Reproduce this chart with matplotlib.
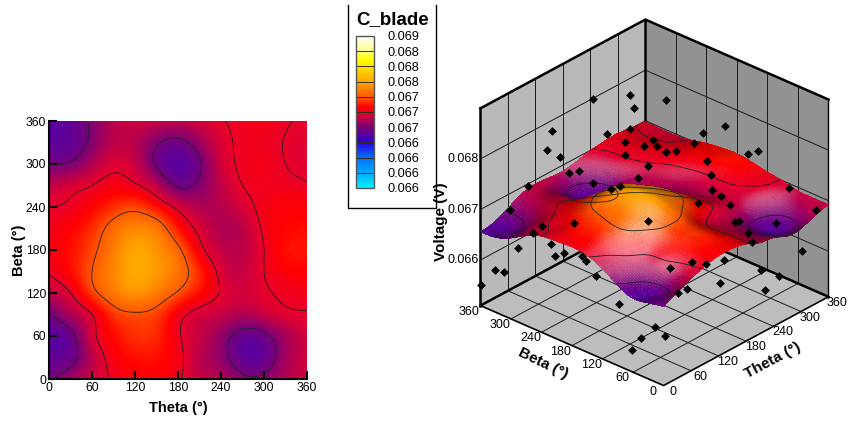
#!/usr/bin/env python3
"""C_blade response surface: flood map plus 3D view."""
import matplotlib
matplotlib.use("Agg")
import matplotlib.pyplot as plt
import numpy as np
from matplotlib.cm import ScalarMappable
from matplotlib.colors import LinearSegmentedColormap, Normalize
from matplotlib.lines import Line2D
from mpl_toolkits.mplot3d import proj3d
from mpl_toolkits.mplot3d.art3d import Poly3DCollection

plt.rcParams["font.family"] = ["Liberation Sans", "DejaVu Sans"]

grid_theta = [0, 30, 60, 90, 120, 150, 180, 210, 240, 270, 300, 330, 360]
grid_beta = [0, 30, 60, 90, 120, 150, 180, 210, 240, 270, 300, 330, 360]
voltage_mv = [
    [66.66, 66.80, 66.92, 67.02, 67.08, 67.08, 67.02, 66.90, 66.85, 66.74, 66.74, 66.85, 66.92],
    [66.60, 66.64, 66.88, 67.06, 67.13, 67.13, 67.04, 66.88, 66.76, 66.60, 66.60, 66.80, 66.92],
    [66.56, 66.65, 66.95, 67.12, 67.20, 67.18, 67.02, 66.90, 66.78, 66.63, 66.66, 66.82, 66.93],
    [66.68, 66.84, 67.00, 67.22, 67.28, 67.24, 67.06, 66.95, 66.90, 66.85, 66.90, 66.97, 66.99],
    [66.88, 67.00, 67.24, 67.42, 67.52, 67.43, 67.28, 67.12, 66.99, 66.93, 66.98, 67.02, 67.04],
    [67.01, 67.12, 67.30, 67.48, 67.62, 67.55, 67.40, 67.18, 66.96, 66.90, 67.00, 67.08, 67.10],
    [67.05, 67.13, 67.26, 67.44, 67.60, 67.52, 67.34, 67.05, 66.90, 66.88, 67.00, 67.12, 67.14],
    [67.03, 67.10, 67.20, 67.37, 67.47, 67.41, 67.15, 66.96, 66.85, 66.88, 67.02, 67.10, 67.12],
    [67.00, 67.02, 67.10, 67.20, 67.25, 67.13, 66.96, 66.85, 66.86, 66.94, 67.04, 67.08, 67.08],
    [66.88, 66.95, 67.00, 67.06, 67.02, 66.88, 66.68, 66.74, 66.88, 67.00, 67.03, 67.03, 67.01],
    [66.70, 66.72, 66.86, 66.96, 66.90, 66.68, 66.56, 66.68, 66.92, 67.02, 67.04, 67.00, 66.97],
    [66.58, 66.60, 66.74, 66.88, 66.86, 66.72, 66.66, 66.78, 66.95, 67.02, 67.03, 66.995, 66.97],
    [66.56, 66.60, 66.73, 66.87, 66.92, 66.90, 66.88, 66.93, 66.99, 67.03, 67.04, 67.01, 66.98],
]
contour_levels = [0.0667, 0.0670, 0.0673]
ticks_deg = [0, 60, 120, 180, 240, 300, 360]
volt_ticks = [0.066, 0.067, 0.068]
volt_labels = ["0.066", "0.067", "0.068"]
legend_levels = [0.0685, 0.0682, 0.0679, 0.0676, 0.0673, 0.0670, 0.0667, 0.0664, 0.0661, 0.0658, 0.0655]
legend_labels = ["0.069", "0.068", "0.068", "0.068", "0.067", "0.067", "0.067", "0.066", "0.066", "0.066", "0.066"]

# sample points in front of the surface
front_theta = [193, 233, 225, 265, 122, 100, 107, 175, 202, 299, 270, 214, 185, 200, 213, 217, 227, 252, 173, 296,
               308, 249, 186, 101, 112, 240, 165, 49, 116, 128, 140, 227, 201, 230, 231, 306, 333, 17, 135, 25,
               60, 15, 220, 225, 223, 260, 219, 303, 16, 18, 23, 13, 38, 37, 18, 17, 0, 114, 142, 154,
               176, 212, 252, 33, 149, 222, 99, 112, 31, 45, 21, 47, 6]
front_beta = [312, 276, 261, 233, 330, 319, 299, 268, 248, 148, 166, 214, 242, 219, 205, 190, 180, 168, 232, 101,
              92, 139, 198, 276, 268, 122, 198, 310, 243, 218, 212, 110, 114, 95, 78, 28, 0, 317, 153, 262,
              230, 271, 58, 55, 35, 14, 23, 0, 300, 237, 216, 225, 194, 185, 347, 328, 359, 90, 71, 55,
              39, 0, 0, 162, 24, 0, 60, 54, 116, 57, 63, 40, 68]
front_mv = [68.46, 68.50, 68.35, 68.44, 68.08, 67.87, 67.78, 68.05, 68.10, 68.13, 68.04, 67.97, 67.95, 67.90, 67.90,
            67.83, 67.84, 67.93, 67.80, 67.80, 67.83, 67.72, 67.67, 67.59, 67.61, 67.55, 67.53, 67.45, 67.48, 67.40,
            67.44, 67.38, 67.23, 67.30, 67.20, 67.40, 66.95, 67.09, 67.03, 66.98, 67.01, 66.85, 67.00, 67.01, 66.87,
            66.98, 66.76, 66.28, 66.42, 66.77, 66.67, 66.61, 66.63, 66.56, 65.78, 65.82, 65.52, 66.48, 66.54, 66.52,
            66.56, 66.36, 66.03, 66.39, 66.29, 65.91, 66.18, 66.23, 66.06, 65.78, 65.66, 65.68, 65.47]

# sample points seen through the surface
behind_theta = [184, 206, 226, 139, 211, 92, 100, 140, 192, 172, 180, 168, 94, 240, 285, 37, 114, 16, 89, 73,
                110, 115, 41, 182, 173, 181, 219, 285, 129, 51, 85]
behind_beta = [250, 200, 155, 238, 160, 276, 257, 220, 151, 159, 133, 140, 216, 78, 40, 282, 225, 290, 186, 188,
               159, 155, 214, 98, 81, 61, 41, 0, 77, 143, 83]
behind_mv = [67.99, 67.82, 67.66, 67.60, 67.60, 67.53, 67.46, 67.50, 67.41, 67.32, 67.21, 67.17, 67.15, 67.26, 67.28,
             67.19, 67.35, 66.83, 66.92, 66.82, 66.89, 66.91, 66.77, 67.00, 66.82, 66.74, 66.88, 66.84, 66.49, 66.38,
             66.22]

cmap = LinearSegmentedColormap.from_list("blade", [
    (0.0, "#00f0ff"),
    (0.1, "#00aaff"),
    (0.2, "#006eff"),
    (0.3, "#2800e0"),
    (0.33, "#4a00b4"),
    (0.36, "#600098"),
    (0.4, "#7a0078"),
    (0.5, "#eb0028"),
    (0.533, "#ff0000"),
    (0.6, "#ff5a00"),
    (0.7, "#ffa500"),
    (0.8, "#ffe100"),
    (0.85, "#ffff00"),
    (0.9, "#ffff82"),
    (1.0, "#ffffff"),
])
norm = Normalize(0.0655, 0.0685)


def spline_weights(x, xf):
    """Natural cubic spline from knots x to points xf, as a matrix."""
    x = np.asarray(x, float)
    n, h = len(x), x[1] - x[0]
    A = np.eye(n)
    rhs = np.zeros((n, n))
    for i in range(1, n - 1):
        A[i, i - 1:i + 2] = [h / 6, 2 * h / 3, h / 6]
        rhs[i, i - 1:i + 2] = [1 / h, -2 / h, 1 / h]
    m = np.linalg.solve(A, rhs)
    i = np.clip(np.searchsorted(x, xf, side="right") - 1, 0, n - 2)
    a, b = (x[i + 1] - xf) / h, (xf - x[i]) / h
    w = np.zeros((len(xf), n))
    rows = np.arange(len(xf))
    w[rows, i] += a
    w[rows, i + 1] += b
    w += ((a ** 3 - a) * h ** 2 / 6)[:, None] * m[i] + ((b ** 3 - b) * h ** 2 / 6)[:, None] * m[i + 1]
    return w


# smooth the read grid for drawing
fine = np.linspace(0, 360, 121)
T, B = np.meshgrid(fine, fine)
Z = spline_weights(grid_beta, fine) @ (np.array(voltage_mv) * 1e-3) @ spline_weights(grid_theta, fine).T

fig = plt.figure(figsize=(8.5, 4.25), dpi=100)

# flood map
ax = fig.add_axes([49 / 850, 46 / 425, 258 / 850, 258 / 425])
ax.imshow(Z, origin="lower", extent=(0, 360, 0, 360), cmap=cmap, norm=norm, interpolation="bilinear", aspect="auto")
ax.contour(T, B, Z, levels=contour_levels, colors="#202020", linewidths=0.6)
ax.set_xticks(ticks_deg)
ax.set_yticks(ticks_deg)
ax.tick_params(direction="in", length=6, width=1.5, labelsize=8.7, pad=2)
for side in ("top", "right"):
    ax.spines[side].set_visible(False)
for side in ("left", "bottom"):
    ax.spines[side].set_linewidth(1.5)
ax.set_xlabel("Theta (°)", fontsize=10.5, fontweight="bold", labelpad=5)
ax.set_ylabel("Beta (°)", fontsize=10.5, fontweight="bold", labelpad=0)

# legend box
cax = fig.add_axes([356 / 850, (425 - 188) / 425, 18 / 850, 152 / 425])
cb = fig.colorbar(ScalarMappable(norm=norm, cmap=cmap), cax=cax, ticks=legend_levels)
cb.ax.set_yticklabels(legend_labels, fontsize=9.2)
cb.ax.tick_params(length=0, pad=10)
cb.outline.set_edgecolor("#555555")
cb.outline.set_linewidth(1)
for lev in legend_levels[1:-1]:
    cax.axhline(lev, color="#303010", lw=0.7)
fig.text(393 / 850, 1 - 20 / 425, "C_blade", fontsize=13.5, fontweight="bold", ha="center", va="center")
fig.add_artist(Line2D([348 / 850, 348 / 850, 436 / 850, 436 / 850],
                      [1 - 5 / 425, 1 - 208 / 425, 1 - 208 / 425, 1 - 5 / 425], color="k", lw=1))

# 3D view
ax3 = fig.add_axes([447.5 / 850, 15.5 / 425, 403 / 850, 403 / 425], projection="3d", proj_type="ortho", computed_zorder=False)
ax3.patch.set_alpha(0)
ax3.set_xticks([])
ax3.set_yticks([])
ax3.set_zticks([])
ax3.set_axis_off()
ax3.view_init(elev=29, azim=-138)
ax3.set_box_aspect((1, 1, 0.915))
zmin, zmax = 0.0651, 0.0690
ax3.set_xlim(0, 360, view_margin=0)
ax3.set_ylim(0, 360, view_margin=0)
ax3.set_zlim(zmin, zmax, view_margin=0)

walls = [
    ([(0, 360, zmin), (360, 360, zmin), (360, 360, zmax), (0, 360, zmax)], "#b9b9b9"),
    ([(360, 0, zmin), (360, 360, zmin), (360, 360, zmax), (360, 0, zmax)], "#929292"),
    ([(0, 0, zmin), (360, 0, zmin), (360, 360, zmin), (0, 360, zmin)], "#bdbdbd"),
]
for verts, color in walls:
    ax3.add_collection3d(Poly3DCollection([verts], facecolors=color, edgecolors="none", zorder=1))

grid_kw = dict(color="#1a1a1a", lw=0.7, zorder=2)
for d in ticks_deg[1:-1]:
    ax3.plot([d, d], [360, 360], [zmin, zmax], **grid_kw)
    ax3.plot([360, 360], [d, d], [zmin, zmax], **grid_kw)
    ax3.plot([d, d], [0, 360], [zmin, zmin], **grid_kw)
    ax3.plot([0, 360], [d, d], [zmin, zmin], **grid_kw)
for v in volt_ticks:
    ax3.plot([0, 360], [360, 360], [v, v], **grid_kw)
    ax3.plot([360, 360], [0, 360], [v, v], **grid_kw)

thick = dict(color="k", lw=1.8, zorder=3)
ax3.plot([0, 360, 360], [360, 360, 0], [zmax, zmax, zmax], **thick)
ax3.plot([360, 360], [360, 360], [zmin, zmax], **thick)
ax3.plot([0, 0], [360, 360], [zmin, zmax], **thick)
ax3.plot([360, 360], [0, 0], [zmin, zmax], color="k", lw=1, zorder=3)
ax3.plot([0, 360, 360], [360, 360, 0], [zmin, zmin, zmin], **thick)
ax3.plot([0, 0, 360], [360, 0, 0], [zmin, zmin, zmin], color="k", lw=1.2, zorder=3)

marker_kw = dict(marker="D", s=20, c="k", linewidths=0, depthshade=False)
ax3.scatter(behind_theta, behind_beta, np.array(behind_mv) * 1e-3, zorder=4, **marker_kw)

# lighting: slopes that face the viewer go pale, flat parts go a little dull
dz_b, dz_t = np.gradient(Z, fine, fine)
slope_scale = 360 / (zmax - zmin) * 0.915
nx, ny = -dz_t * slope_scale, -dz_b * slope_scale
nlen = np.sqrt(nx ** 2 + ny ** 2 + 1)
el, az = np.radians(24), np.radians(-138)
facing = (nx * np.cos(el) * np.cos(az) + ny * np.cos(el) * np.sin(az) + np.sin(el)) / nlen
rgba = cmap(norm(Z))
dull = np.clip(0.88 + (facing - 0.42) * 1.0, 0.68, 1)[..., None]
pale = np.clip((facing - 0.6) / 0.3, 0, 1) * np.clip((Z - 0.0666) / 0.0003, 0, 1)
pale = pale[..., None] * 0.5
rgba[..., :3] = rgba[..., :3] * dull * (1 - pale) + pale
rgba[..., 3] = 0.85
ax3.plot_surface(T, B, Z, facecolors=rgba, rstride=1, cstride=1, linewidth=0, antialiased=False, shade=False, zorder=5)
ax3.contour(T, B, Z, levels=contour_levels, colors="#202020", linewidths=0.6, zorder=6)
ax3.scatter(front_theta, front_beta, np.array(front_mv) * 1e-3, zorder=7, **marker_kw)


def label_3d(x, y, z, text, dx, dy, ha="center"):
    """Flat tick label at a projected 3D point, offset in pixels."""
    sx, sy, _ = proj3d.proj_transform(x, y, z, ax3.get_proj())
    ax3.annotate(text, (sx, sy), xytext=(dx * 0.72, dy * 0.72), textcoords="offset points",
                 fontsize=9, ha=ha, va="center", annotation_clip=False)


for d in ticks_deg:
    label_3d(d, 0, zmin, str(d), 9, -6)
    label_3d(0, d, zmin, str(d), -11, -6)
for v, lab in zip(volt_ticks, volt_labels):
    label_3d(0, 360, v, lab, -2, 0, ha="right")

fig.text(441 / 850, 1 - 222 / 425, "Voltage (V)", fontsize=11, fontweight="bold", rotation=90, ha="center", va="center")
fig.text(773 / 850, 1 - 360 / 425, "Theta (°)", fontsize=11, fontweight="bold", rotation=28, ha="center", va="center")
fig.text(543 / 850, 1 - 363 / 425, "Beta (°)", fontsize=11, fontweight="bold", rotation=-26, ha="center", va="center")

fig.savefig("out.png", dpi=100)
